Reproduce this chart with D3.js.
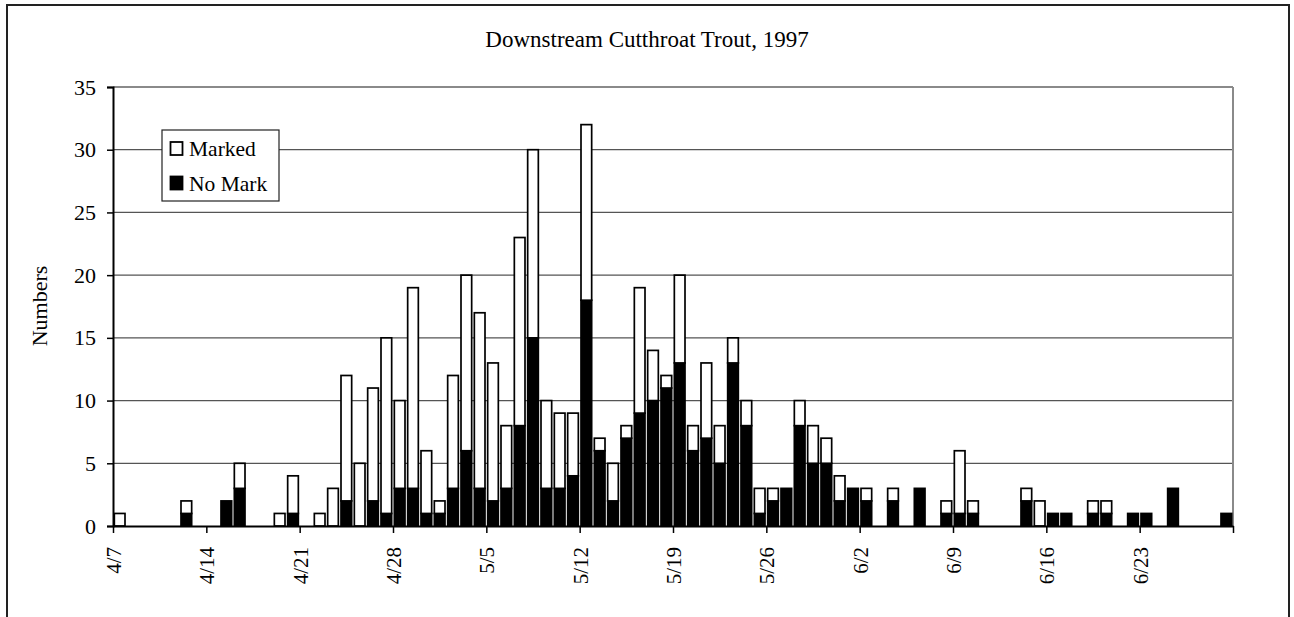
<!DOCTYPE html>
<html><head><meta charset="utf-8">
<script src="https://cdn.jsdelivr.net/npm/d3@7/dist/d3.min.js"></script>
<style>body{margin:0;background:#fff}svg{display:block}text{font-family:"Liberation Serif","Times New Roman",serif;fill:#000}</style>
</head><body><svg id="c" width="1294" height="617"></svg>
<script>
const days = ["4/7","4/8","4/9","4/10","4/11","4/12","4/13","4/14","4/15","4/16","4/17","4/18","4/19","4/20","4/21","4/22","4/23","4/24","4/25","4/26","4/27","4/28","4/29","4/30",
"5/1","5/2","5/3","5/4","5/5","5/6","5/7","5/8","5/9","5/10","5/11","5/12","5/13","5/14","5/15","5/16","5/17","5/18","5/19","5/20","5/21","5/22","5/23","5/24","5/25","5/26","5/27","5/28","5/29","5/30","5/31",
"6/1","6/2","6/3","6/4","6/5","6/6","6/7","6/8","6/9","6/10","6/11","6/12","6/13","6/14","6/15","6/16","6/17","6/18","6/19","6/20","6/21","6/22","6/23","6/24","6/25","6/26","6/27","6/28","6/29"];
const noMark = [0,0,0,0,0,1,0,0,2,3,0,0,0,1,0,0,0,2,0,2,1,3,3,1,1,3,6,3,2,3,8,15,3,3,4,18,6,2,7,9,10,11,13,6,7,5,13,8,1,2,3,8,5,5,2,3,2,0,2,0,3,0,1,1,1,0,0,0,2,0,1,1,0,1,1,0,1,1,0,3,0,0,0,1];
const marked = [1,0,0,0,0,1,0,0,0,2,0,0,1,3,0,1,3,10,5,9,14,7,16,5,1,9,14,14,11,5,15,15,7,6,5,14,1,3,1,10,4,1,7,2,6,3,2,2,2,1,0,2,3,2,2,0,1,0,1,0,0,0,1,5,1,0,0,0,1,2,0,0,0,1,1,0,0,0,0,0,0,0,0,0];
const tickLabels = ["4/7","4/14","4/21","4/28","5/5","5/12","5/19","5/26","6/2","6/9","6/16","6/23"];
const yTicks = [0,5,10,15,20,25,30,35];
const seriesNames = ["Marked","No Mark"];
const title = "Downstream Cutthroat Trout, 1997";
const yTitle = "Numbers";

const svg = d3.select("#c");
const L = 113, R = 1233, T = 87, B = 526;
const fs = 21;

// outer frame
svg.append("rect").attr("x",7).attr("y",5).attr("width",1282).attr("height",640)
  .attr("fill","none").attr("stroke","#222").attr("stroke-width",2);

const x = d3.scaleBand().domain(days).range([L,R]).paddingInner(0.2).paddingOuter(0.1);
const xl = d3.scaleLinear().domain([0, days.length]).range([L,R]);
const y = d3.scaleLinear().domain([0,35]).range([B,T]);

// gridlines
svg.append("g").selectAll("line").data(yTicks.filter(v=>v>0)).join("line")
  .attr("x1",L).attr("x2",R).attr("y1",d=>y(d)).attr("y2",d=>y(d))
  .attr("stroke", d=>d===35?"#8a8a8a":"#555").attr("stroke-width", d=>d===35?2:1.3);
svg.append("line").attr("x1",R).attr("x2",R).attr("y1",T).attr("y2",B)
  .attr("stroke","#8a8a8a").attr("stroke-width",2);

// bars
const data = days.map((d,i)=>({d, n:noMark[i], m:marked[i]}));
const g = svg.append("g");
g.selectAll("rect.nm").data(data.filter(e=>e.n>0)).join("rect").attr("class","nm")
  .attr("x",e=>x(e.d)).attr("width",x.bandwidth())
  .attr("y",e=>y(e.n)).attr("height",e=>y(0)-y(e.n))
  .attr("fill","#000").attr("stroke","#000").attr("stroke-width",1.7);
g.selectAll("rect.mk").data(data.filter(e=>e.m>0)).join("rect").attr("class","mk")
  .attr("x",e=>x(e.d)).attr("width",x.bandwidth())
  .attr("y",e=>y(e.n+e.m)).attr("height",e=>y(e.n)-y(e.n+e.m))
  .attr("fill","#fff").attr("stroke","#000").attr("stroke-width",1.7);

// y axis
const ya = svg.append("g").attr("transform",`translate(${L},0)`)
  .call(d3.axisLeft(y).tickValues(yTicks).tickSize(6).tickPadding(11).tickFormat(d3.format("d")));
ya.select(".domain").attr("stroke","#000").attr("stroke-width",2);
ya.selectAll(".tick line").attr("stroke","#000").attr("stroke-width",1.5);
ya.selectAll("text").attr("font-size",22).attr("font-family","Liberation Serif").attr("fill","#000");

// x axis
const tickIdx = d3.range(0, days.length+1, 7);
const xa = svg.append("g").attr("transform",`translate(0,${B})`)
  .call(d3.axisBottom(xl).tickValues(tickIdx).tickSize(7).tickSizeOuter(0)
    .tickFormat((v,i)=> tickLabels[i] || ""));
xa.select(".domain").attr("stroke","#000").attr("stroke-width",2);
xa.selectAll(".tick line").attr("stroke","#000").attr("stroke-width",1.5);
xa.selectAll("text").attr("font-size",fs).attr("font-family","Liberation Serif").attr("fill","#000")
  .attr("text-anchor","end").attr("transform","rotate(-90)")
  .attr("x",-21).attr("y",0).attr("dy","0.35em");

// title
svg.append("text").attr("x",647).attr("y",47).attr("text-anchor","middle")
  .attr("font-size",23).text(title);
svg.append("text").attr("transform","translate(47,306) rotate(-90)").attr("text-anchor","middle")
  .attr("font-size",22).text(yTitle);

// legend
const lg = svg.append("g");
lg.append("rect").attr("x",162).attr("y",130).attr("width",117).attr("height",71)
  .attr("fill","#fff").attr("stroke","#222").attr("stroke-width",1.2);
const lrows = [{n:seriesNames[0], f:"#fff", yy:148.5},{n:seriesNames[1], f:"#000", yy:183}];
lrows.forEach(r=>{
  lg.append("rect").attr("x",170.5).attr("y",r.yy-6.5).attr("width",12).attr("height",13)
    .attr("fill",r.f).attr("stroke","#000").attr("stroke-width",1.8);
  lg.append("text").attr("x",189).attr("y",r.yy+7.5).attr("font-size",21.5).text(r.n);
});
</script></body></html>
